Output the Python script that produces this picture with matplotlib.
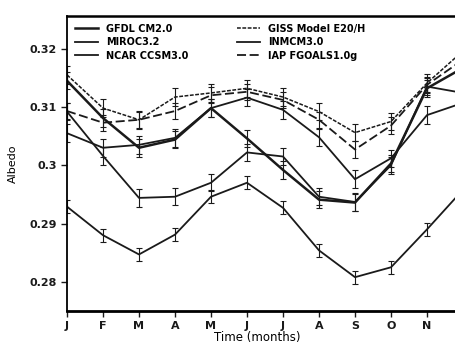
import matplotlib
matplotlib.use("Agg")
import matplotlib.pyplot as plt
from matplotlib.lines import Line2D

months = ["J", "F", "M", "A", "M", "J", "J", "A", "S", "O", "N", "D"]

gfdl = [0.3145, 0.3081, 0.3030, 0.3044, 0.3098, 0.3046, 0.2992, 0.2941, 0.2936, 0.3003, 0.3132, 0.3167]
miroc = [0.3092, 0.3016, 0.2944, 0.2946, 0.2970, 0.3022, 0.3015, 0.2946, 0.2937, 0.3000, 0.3135, 0.3124]
ncar = [0.2929, 0.2880, 0.2847, 0.2881, 0.2946, 0.2970, 0.2927, 0.2854, 0.2808, 0.2825, 0.2890, 0.2958]
giss = [0.3155, 0.3098, 0.3078, 0.3117, 0.3124, 0.3132, 0.3117, 0.3092, 0.3056, 0.3075, 0.3141, 0.3196]
inmcm = [0.3055, 0.3030, 0.3035, 0.3047, 0.3098, 0.3116, 0.3095, 0.3048, 0.2976, 0.3012, 0.3086, 0.3107]
iap = [0.3093, 0.3073, 0.3078, 0.3093, 0.3120, 0.3126, 0.3112, 0.3078, 0.3027, 0.3068, 0.3138, 0.3181]

names = ["GFDL CM2.0", "MIROC3.2", "NCAR CCSM3.0", "GISS Model E20/H", "INMCM3.0", "IAP FGOALS1.0g"]
errs = [0.0015, 0.0015, 0.0011, 0.0015, 0.0015, 0.0014]

plt.rcParams['font.family'] = ['DejaVu Sans']
plt.rcParams['font.weight'] = 'bold'

fig = plt.figure(figsize=(4.56, 3.47), dpi=100)
ax = fig.add_axes([67/456, 36/347, 1 - 67/456, (311-16)/347])

series = [gfdl, miroc, ncar, giss, inmcm, iap]
styles = [dict(ls='-', lw=1.8), dict(ls='-', lw=1.3), dict(ls='-', lw=1.3),
          dict(ls=(0, (2.5, 1)), lw=1.1), dict(ls='-', lw=1.3), dict(ls=(0, (5, 2)), lw=1.3)]
x = list(range(len(months)))
handles = []
for vals, name, e, st in zip(series, names, errs, styles):
    ax.errorbar(x, vals, yerr=e, color='#1a1a1a', capsize=2.5, elinewidth=0.8,
                capthick=0.8, **st)
    handles.append(Line2D([], [], color='#1a1a1a', label=name, **st))

ax.set_xticks(x)
ax.set_xticklabels(months)
ax.set_xlim(0, (456-67)/36)
ax.set_ylim(0.2750, 0.3256)
ax.set_yticks([0.28, 0.29, 0.30, 0.31, 0.32])
ax.set_yticklabels(["0.28", "0.29", "0.3", "0.31", "0.32"])
ax.tick_params(labelsize=8, length=4, width=1, colors='#1a1a1a')
ax.spines['right'].set_visible(False)
ax.spines['bottom'].set_linewidth(2)
ax.spines['top'].set_linewidth(1.8)
ax.spines['left'].set_linewidth(1.3)

ax.set_ylabel("Albedo", fontsize=8, labelpad=8)
ax.set_xlabel("Time (months)", fontsize=8.5)
ax.xaxis.set_label_coords(0.49, -0.068)

ax.legend(handles=handles, loc='upper left', ncol=2, frameon=False, fontsize=7,
          handlelength=2.4, handletextpad=0.8, labelspacing=0.35,
          columnspacing=5.0, bbox_to_anchor=(0.0, 1.0), borderaxespad=0.4)

fig.savefig("out.png", dpi=100)
